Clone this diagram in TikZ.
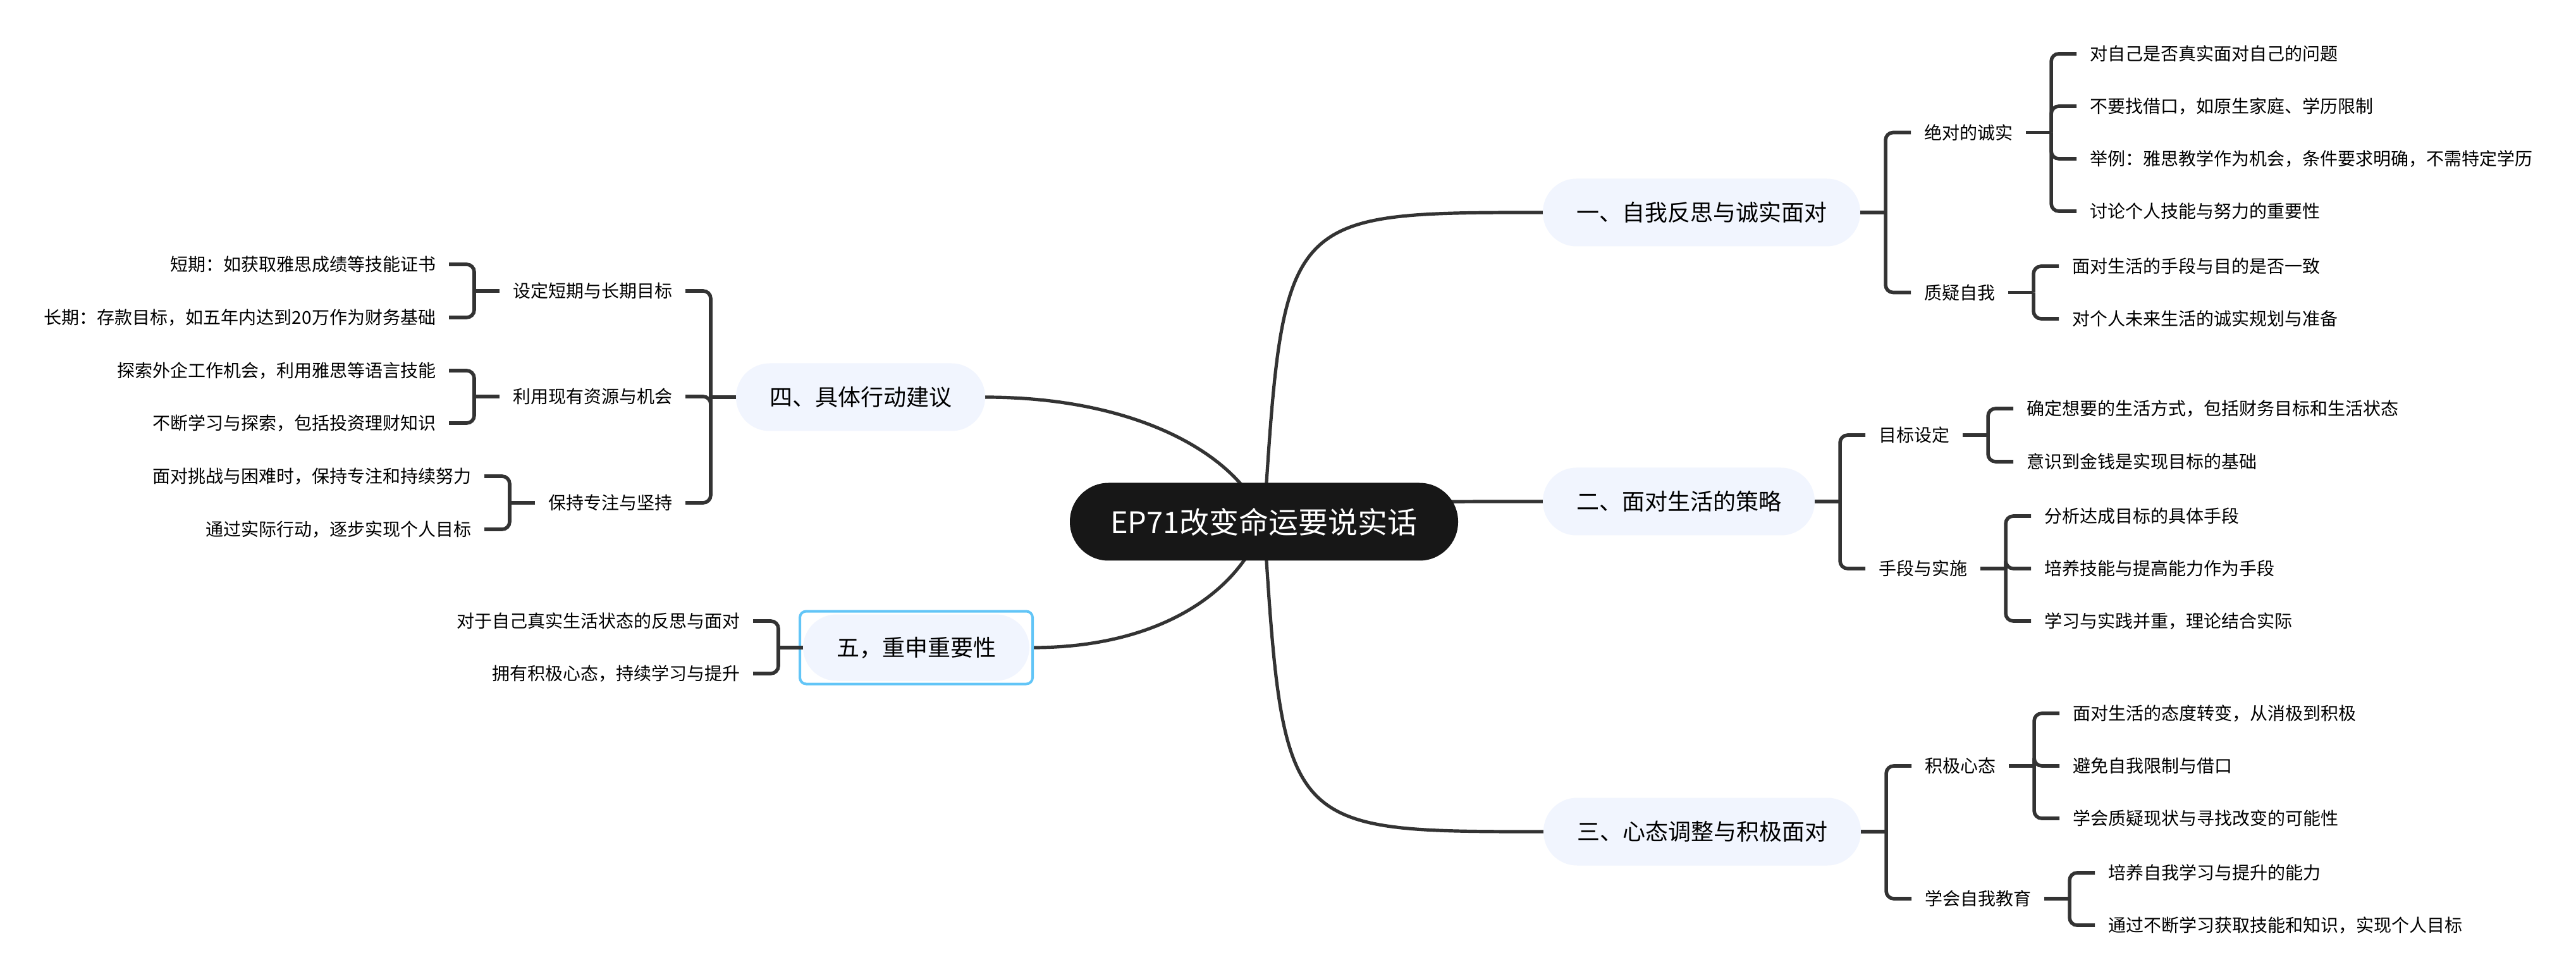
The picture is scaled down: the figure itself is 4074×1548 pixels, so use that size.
\documentclass[tikz,border=0pt]{standalone}
\usepackage{fontspec}
\setmainfont{Noto Sans CJK SC}
\usetikzlibrary{calc,fit}
\definecolor{rootc}{RGB}{23,23,23}
\definecolor{brc}{RGB}{241,245,254}
\definecolor{linec}{RGB}{51,51,51}
\definecolor{selc}{RGB}{98,197,247}
\pgfdeclarelayer{bg}
\pgfsetlayers{bg,main}
\tikzset{
  every node/.style={outer sep=0pt},
  root/.style={fill=rootc, text=white, font=\fontsize{11.75}{14}\selectfont, minimum width=153.5pt, minimum height=30.75pt, rounded corners=15.3pt, inner sep=0pt},
  branch/.style={fill=brc, text=black, font=\fontsize{9}{11}\selectfont, minimum height=26.75pt, inner xsep=13.25pt, inner ysep=0pt, rounded corners=13.3pt},
  sub/.style={text=black, font=\fontsize{7}{8.5}\selectfont, inner xsep=5.25pt, inner ysep=1pt},
  rc/.style={sub, anchor=west},
  lc/.style={sub, anchor=east},
  conn/.style={draw=linec, line width=1.4pt},
  elbow/.style={conn, rounded corners=3pt},
  curve/.style={draw=linec, line width=1.3pt},
  selbox/.style={draw=selc, line width=1pt, rounded corners=2.5pt, inner sep=1.25pt},
}
\begin{document}
\begin{tikzpicture}[x=0.25pt,y=-0.25pt]
\useasboundingbox (0,0) rectangle (4074,1548);

% root and main branches
\node[root] (c) at (1999,825) {EP71改变命运要说实话};
\node[branch, anchor=west] (b1) at (2440,336) {一、自我反思与诚实面对};
\node[branch, anchor=west] (b2) at (2440,793) {二、面对生活的策略};
\node[branch, anchor=west] (b3) at (2441,1315) {三、心态调整与积极面对};
\node[branch, anchor=east] (b4) at (1558,628) {四、具体行动建议};
\node[branch, anchor=east, minimum height=26.25pt] (b5) at (1628,1024) {五，重申重要性};
\node[selbox, fit=(b5)] (b5sel) {};

% ---------- branch 1 ----------
\coordinate (j1) at ($(b1.east)+(40,0)$);
\node[rc] (b1a) at ($(j1 |- 0,209.5)+(40,0)$) {绝对的诚实};
\node[rc] (b1b) at ($(j1 |- 0,462.5)+(40,0)$) {质疑自我};
\coordinate (j1a) at ($(b1a.east)+(40,0)$);
\node[rc] (b1a1) at ($(j1a |- 0,85)+(40,0)$) {对自己是否真实面对自己的问题};
\node[rc] (b1a2) at ($(j1a |- 0,168)+(40,0)$) {不要找借口，如原生家庭、学历限制};
\node[rc] (b1a3) at ($(j1a |- 0,251)+(40,0)$) {举例：雅思教学作为机会，条件要求明确，不需特定学历};
\node[rc] (b1a4) at ($(j1a |- 0,334)+(40,0)$) {讨论个人技能与努力的重要性};
\coordinate (j1b) at ($(b1b.east)+(40,0)$);
\node[rc] (b1b1) at ($(j1b |- 0,421)+(40,0)$) {面对生活的手段与目的是否一致};
\node[rc] (b1b2) at ($(j1b |- 0,504)+(40,0)$) {对个人未来生活的诚实规划与准备};

% ---------- branch 2 ----------
\coordinate (j2) at ($(b2.east)+(40,0)$);
\node[rc] (b2a) at ($(j2 |- 0,688)+(40,0)$) {目标设定};
\node[rc] (b2b) at ($(j2 |- 0,899)+(40,0)$) {手段与实施};
\coordinate (j2a) at ($(b2a.east)+(40,0)$);
\node[rc] (b2a1) at ($(j2a |- 0,646)+(40,0)$) {确定想要的生活方式，包括财务目标和生活状态};
\node[rc] (b2a2) at ($(j2a |- 0,730)+(40,0)$) {意识到金钱是实现目标的基础};
\coordinate (j2b) at ($(b2b.east)+(40,0)$);
\node[rc] (b2b1) at ($(j2b |- 0,816)+(40,0)$) {分析达成目标的具体手段};
\node[rc] (b2b2) at ($(j2b |- 0,899)+(40,0)$) {培养技能与提高能力作为手段};
\node[rc] (b2b3) at ($(j2b |- 0,982)+(40,0)$) {学习与实践并重，理论结合实际};

% ---------- branch 3 ----------
\coordinate (j3) at ($(b3.east)+(40,0)$);
\node[rc] (b3a) at ($(j3 |- 0,1211)+(40,0)$) {积极心态};
\node[rc] (b3b) at ($(j3 |- 0,1421)+(40,0)$) {学会自我教育};
\coordinate (j3a) at ($(b3a.east)+(40,0)$);
\node[rc] (b3a1) at ($(j3a |- 0,1128)+(40,0)$) {面对生活的态度转变，从消极到积极};
\node[rc] (b3a2) at ($(j3a |- 0,1211)+(40,0)$) {避免自我限制与借口};
\node[rc] (b3a3) at ($(j3a |- 0,1294)+(40,0)$) {学会质疑现状与寻找改变的可能性};
\coordinate (j3b) at ($(b3b.east)+(40,0)$);
\node[rc] (b3b1) at ($(j3b |- 0,1380)+(40,0)$) {培养自我学习与提升的能力};
\node[rc] (b3b2) at ($(j3b |- 0,1463)+(40,0)$) {通过不断学习获取技能和知识，实现个人目标};

% ---------- branch 4 ----------
\coordinate (j4) at ($(b4.west)+(-40,0)$);
\node[lc] (b4a) at ($(j4 |- 0,460)+(-40,0)$) {设定短期与长期目标};
\node[lc] (b4b) at ($(j4 |- 0,627)+(-40,0)$) {利用现有资源与机会};
\node[lc] (b4c) at ($(j4 |- 0,795)+(-40,0)$) {保持专注与坚持};
\coordinate (j4a) at ($(b4a.west)+(-40,0)$);
\node[lc] (b4a1) at ($(j4a |- 0,418)+(-40,0)$) {短期：如获取雅思成绩等技能证书};
\node[lc] (b4a2) at ($(j4a |- 0,502)+(-40,0)$) {长期：存款目标，如五年内达到20万作为财务基础};
\coordinate (j4b) at ($(b4b.west)+(-40,0)$);
\node[lc] (b4b1) at ($(j4b |- 0,586)+(-40,0)$) {探索外企工作机会，利用雅思等语言技能};
\node[lc] (b4b2) at ($(j4b |- 0,669)+(-40,0)$) {不断学习与探索，包括投资理财知识};
\coordinate (j4c) at ($(b4c.west)+(-40,0)$);
\node[lc] (b4c1) at ($(j4c |- 0,753)+(-40,0)$) {面对挑战与困难时，保持专注和持续努力};
\node[lc] (b4c2) at ($(j4c |- 0,837)+(-40,0)$) {通过实际行动，逐步实现个人目标};

% ---------- branch 5 ----------
\coordinate (j5) at ($(b5.west)+(-39,0)$);
\node[lc] (b51) at ($(j5 |- 0,982)+(-40,0)$) {对于自己真实生活状态的反思与面对};
\node[lc] (b52) at ($(j5 |- 0,1065)+(-40,0)$) {拥有积极心态，持续学习与提升};

% ---------- elbow connectors ----------
\draw[conn] (b1.east) -- (j1);
\foreach \n in {b1a,b1b} \draw[elbow] (j1) |- (\n.west);
\draw[conn] (b1a.east) -- (j1a);
\foreach \n in {b1a1,b1a2,b1a3,b1a4} \draw[elbow] (j1a) |- (\n.west);
\draw[conn] (b1b.east) -- (j1b);
\foreach \n in {b1b1,b1b2} \draw[elbow] (j1b) |- (\n.west);

\draw[conn] (b2.east) -- (j2);
\foreach \n in {b2a,b2b} \draw[elbow] (j2) |- (\n.west);
\draw[conn] (b2a.east) -- (j2a);
\foreach \n in {b2a1,b2a2} \draw[elbow] (j2a) |- (\n.west);
\draw[conn] (b2b.east) -- (j2b);
\foreach \n in {b2b1,b2b2,b2b3} \draw[elbow] (j2b) |- (\n.west);

\draw[conn] (b3.east) -- (j3);
\foreach \n in {b3a,b3b} \draw[elbow] (j3) |- (\n.west);
\draw[conn] (b3a.east) -- (j3a);
\foreach \n in {b3a1,b3a2,b3a3} \draw[elbow] (j3a) |- (\n.west);
\draw[conn] (b3b.east) -- (j3b);
\foreach \n in {b3b1,b3b2} \draw[elbow] (j3b) |- (\n.west);

\draw[conn] (b4.west) -- (j4);
\foreach \n in {b4a,b4b,b4c} \draw[elbow] (j4) |- (\n.east);
\draw[conn] (b4a.west) -- (j4a);
\foreach \n in {b4a1,b4a2} \draw[elbow] (j4a) |- (\n.east);
\draw[conn] (b4b.west) -- (j4b);
\foreach \n in {b4b1,b4b2} \draw[elbow] (j4b) |- (\n.east);
\draw[conn] (b4c.west) -- (j4c);
\foreach \n in {b4c1,b4c2} \draw[elbow] (j4c) |- (\n.east);

\draw[conn] (b5.west) -- (j5);
\foreach \n in {b51,b52} \draw[elbow] (j5) |- (\n.east);

% ---------- background and curved connectors from root ----------
\begin{pgfonlayer}{bg}
\fill[white] (0,0) rectangle (4074,1548);
\draw[curve] (c.center) .. controls ($(c.center |- b1.west)+(31,0)$) .. (b1.west);
\draw[curve] (c.center) .. controls ($(c.center |- b2.west)+(151,0)$) .. (b2.west);
\draw[curve] (c.center) .. controls ($(c.center |- b3.west)+(31,0)$) .. (b3.west);
\draw[curve] (b4.east) .. controls ($(b4.east)+(242,0)$) and ($(c.center)+(-39,-105)$) .. (c.center);
\draw[curve] (b5sel.east) .. controls ($(b5sel.east)+(196,0)$) and ($(c.center)+(-39,115)$) .. (c.center);
\end{pgfonlayer}
\end{tikzpicture}
\end{document}
